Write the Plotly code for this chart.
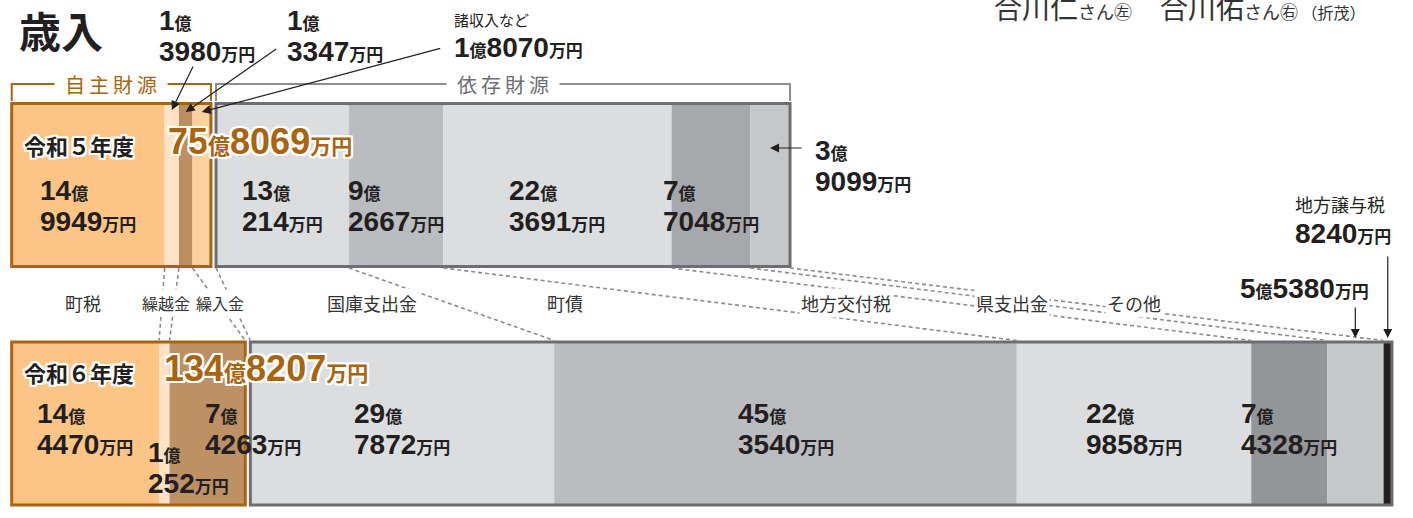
import plotly.graph_objects as go

# ---------------- data (values in 万円) ----------------
title = "歳入"
years = ["令和５年度", "令和６年度"]
year_totals = [758069, 1348207]

own_cats_r5 = ["町税", "繰越金", "繰入金", "諸収入など"]
own_vals_r5 = [149949, 13980, 13347, 18070]
dep_cats_r5 = ["国庫支出金", "町債", "地方交付税", "県支出金", "その他"]
dep_vals_r5 = [130214, 92667, 223691, 77048, 39099]

own_cats_r6 = ["町税", "繰越金", "繰入金"]
own_vals_r6 = [144470, 10252, 74263]
dep_cats_r6 = ["国庫支出金", "町債", "地方交付税", "県支出金", "その他", "地方譲与税"]
dep_vals_r6 = [297872, 453540, 229858, 74328, 55380, 8240]

group_names = ["自主財源", "依存財源"]
shared_cats = ["町税", "繰越金", "繰入金", "国庫支出金", "町債", "地方交付税", "県支出金", "その他"]
caption = ("合川仁<span style='font-size:18px'>さん㊧</span>　"
           "合川佑<span style='font-size:18px'>さん㊨</span>"
           "<span style='font-size:16px'> （折茂）</span>")

# ---------------- styles / layout ----------------
FONT = "Noto Sans CJK JP"
NUMFONT = "Liberation Sans"
INK = "#231F20"
OWN_EDGE = "#A8640F"
DEP_EDGE = "#6D6E71"
W, H = 1413, 518
PX = 10.2          # pixels per 億
LEFT = 11.7        # pixel of value 0
GAP = 0.5          # gap (億) between the two boxes
BAR_H = 163

own_colors_r5 = ["#FCC585", "#FEE3C6", "#BD8F60", "#FDD29E"]
dep_colors_r5 = ["#DCDDDF", "#BBBCBF", "#DCDDDF", "#A7A8AB", "#C6C7C9"]
own_colors_r6 = ["#FCC585", "#FEE3C6", "#BD9163"]
dep_colors_r6 = ["#DCDDDF", "#BBBCBF", "#DCDDDF", "#949598", "#C6C7C9", "#231F20"]

HALO = ("white 2px 0px 0px, white -2px 0px 0px, white 0px 2px 0px, white 0px -2px 0px, "
        "white 2px 2px 0px, white -2px -2px 0px, white 2px -2px 0px, white -2px 2px 0px")

rows = [
    dict(year=years[0], total=year_totals[0], own=(own_cats_r5, own_vals_r5, own_colors_r5),
         dep=(dep_cats_r5, dep_vals_r5, dep_colors_r5), yc=185, year_y=145, total_y=141,
         total_dx=154, in_y=206,
         specs={
             "繰越金": dict(tip_y=110, ax=22, ay=-45, anchor="center", lx=-15, xa="left", ly=36),
             "繰入金": dict(tip_y=112, ax=92, ay=-64, anchor="center", lx=99, xa="left", ly=36),
             "諸収入など": dict(tip_y=112, ax=240, ay=-64, anchor="center", lx=250, xa="left", ly=36,
                             name=True, oneline=True, name_size=15),
             "その他": dict(tip_y=148, ax=33, ay=0, anchor="center", lx=43, xa="left", ly=166),
         }),
    dict(year=years[1], total=year_totals[1], own=(own_cats_r6, own_vals_r6, own_colors_r6),
         dep=(dep_cats_r6, dep_vals_r6, dep_colors_r6), yc=423.5, year_y=372, total_y=368,
         total_dx=150, in_y=429,
         specs={
             "繰越金": dict(anchor="start", lx=-13, xa="left", ly=468),
             "繰入金": dict(anchor="start", lx=33, xa="left", ly=429),
             "その他": dict(tip_y=338, ax=0, ay=-32, anchor="center", lx=16, xa="right", ly=288,
                         oneline=True),
             "地方譲与税": dict(tip_y=338, ax=0, ay=-83, anchor="center", lx=5, xa="right", ly=220,
                           name=True, name_size=18),
         }),
]

DIG, UNIT, BASE = 28, 17, 23.5


def amt(v, dig=DIG, unit=UNIT, oneline=False, oku_unit=None, man_unit=None):
    oku, man = divmod(v, 10000)
    ou = oku_unit or unit
    mu = man_unit or unit

    def num(n):
        return f"<span style='font-family:{NUMFONT};font-size:{dig}px'>{n}</span>"

    parts = []
    if oku:
        parts.append(num(oku) + f"<span style='font-size:{ou}px'>億</span>")
    if man:
        parts.append(num(man) + f"<span style='font-size:{mu}px'>万円</span>")
    if oneline:
        return "<b>" + "".join(parts) + "</b>"
    return "<br>".join("<b>" + p + "</b>" for p in parts)


fig = go.Figure()
shapes = []
ann = []

geo = []  # per row: dict cat -> (start, end)
for r in rows:
    segs = {}
    cats, vals, cols = r["own"]
    starts, pos = [], 0.0
    for v in vals:
        starts.append(pos)
        pos += v / 1e4
    own_end = pos
    for c, s, v in zip(cats, starts, vals):
        segs[c] = (s, s + v / 1e4)
    fig.add_trace(go.Bar(orientation="h", y=[r["yc"]] * len(vals), x=[v / 1e4 for v in vals],
                         base=starts, width=[BAR_H] * len(vals),
                         marker=dict(color=cols, line=dict(width=0)), hoverinfo="skip"))
    dcats, dvals, dcols = r["dep"]
    dep_start = own_end + GAP
    dstarts, pos = [], dep_start
    for v in dvals:
        dstarts.append(pos)
        pos += v / 1e4
    dep_end = pos
    for c, s, v in zip(dcats, dstarts, dvals):
        segs[c] = (s, s + v / 1e4)
    fig.add_trace(go.Bar(orientation="h", y=[r["yc"]] * len(dvals), x=[v / 1e4 for v in dvals],
                         base=dstarts, width=[BAR_H] * len(dvals),
                         marker=dict(color=dcols, line=dict(width=0)), hoverinfo="skip"))
    segs["_own"] = (0.0, own_end)
    segs["_dep"] = (dep_start, dep_end)
    geo.append(segs)

    top, bot = r["yc"] - BAR_H / 2, r["yc"] + BAR_H / 2
    shapes.append(dict(type="rect", xref="x", yref="y", x0=0, x1=own_end, y0=top, y1=bot,
                       line=dict(color=OWN_EDGE, width=3)))
    shapes.append(dict(type="rect", xref="x", yref="y", x0=dep_start, x1=dep_end, y0=top, y1=bot,
                       line=dict(color=DEP_EDGE, width=3)))

    # year and total
    ann.append(dict(x=0, y=r["year_y"], xref="x", yref="y", xanchor="left", yanchor="middle",
                    xshift=10, text="<b>" + r["year"] + "</b>", showarrow=False,
                    font=dict(family=FONT, size=22, color=INK, shadow=HALO)))
    ann.append(dict(x=0, y=r["total_y"], xref="x", yref="y", xanchor="left", yanchor="middle",
                    xshift=r["total_dx"], text=amt(r["total"], dig=36, oneline=True, oku_unit=22, man_unit=21),
                    showarrow=False, font=dict(family=FONT, size=30, color=OWN_EDGE, shadow=HALO)))

    # value labels
    for c, v in list(zip(cats, vals)) + list(zip(dcats, dvals)):
        s, e = segs[c]
        sp = r["specs"].get(c)
        if sp is None:
            ann.append(dict(x=(s + e) / 2, y=r["in_y"], xref="x", yref="y", xanchor="center",
                            yanchor="middle", align="left", text=amt(v), showarrow=False,
                            font=dict(family=FONT, size=BASE, color=INK)))
            continue
        ref_x = (s + e) / 2 if sp["anchor"] == "center" else s
        if "tip_y" in sp:
            ann.append(dict(x=(s + e) / 2, y=sp["tip_y"], xref="x", yref="y", ax=sp["ax"], ay=sp["ay"],
                            text="", showarrow=True, arrowhead=2, arrowsize=1.5, arrowwidth=1.2,
                            arrowcolor=INK, standoff=0))
        txt = amt(v, oneline=sp.get("oneline", False))
        if sp.get("name"):
            txt = f"<span style='font-size:{sp['name_size']}px'>{c}</span><br>" + txt
        ann.append(dict(x=ref_x, y=sp["ly"], xref="x", yref="y", xanchor=sp["xa"], yanchor="middle",
                        xshift=sp["lx"], align="left", text=txt, showarrow=False,
                        font=dict(family=FONT, size=BASE, color=INK)))

# brackets above first row
r0 = geo[0]
BR_Y, BR_Y2 = 84, 101
for key, name, col, tcol in [("_own", group_names[0], OWN_EDGE, OWN_EDGE),
                             ("_dep", group_names[1], "#8C8D90", DEP_EDGE)]:
    s, e = r0[key]
    shapes.append(dict(type="path", xref="x", yref="y",
                       path=f"M {s} {BR_Y2} L {s} {BR_Y} L {e} {BR_Y} L {e} {BR_Y2}",
                       line=dict(color=col, width=2)))
    ann.append(dict(x=(s + e) / 2, y=BR_Y, xref="x", yref="y", xanchor="center", yanchor="middle",
                    text="\u2002" + "\u2009".join(name) + "\u2002", showarrow=False, bgcolor="white",
                    borderpad=0, font=dict(family=FONT, size=20, color=tcol)))

# dashed connectors between the rows
g1, g2 = geo
y_a = rows[0]["yc"] + BAR_H / 2 + 1.5
y_b = rows[1]["yc"] - BAR_H / 2 - 1.5
pairs = [(g1[c][1], g2[c][1]) for c in shared_cats] + [(g1["_dep"][0], g2["_dep"][0])]
for xa_, xb_ in pairs:
    shapes.append(dict(type="line", xref="x", yref="y", x0=xa_, y0=y_a, x1=xb_, y1=y_b,
                       line=dict(color="#8C8C8C", width=1.6, dash="4px,3px")))

# category labels between rows
between_dx = [-4, -2, 23, 30, -26, 0, 12, 71]
between_size = [18, 16, 16, 18, 18, 18, 18, 18]
for c, dx, fs in zip(shared_cats, between_dx, between_size):
    c1 = sum(g1[c]) / 2
    c2 = sum(g2[c]) / 2
    ann.append(dict(x=(c1 + c2) / 2, y=303, xref="x", yref="y", xanchor="center", yanchor="middle",
                    xshift=dx, text=c, showarrow=False, bgcolor="white", borderpad=1,
                    font=dict(family=FONT, size=fs, color="#333333")))

# title and caption
ann.append(dict(x=17 / W, y=29, xref="paper", yref="y", xanchor="left", yanchor="middle",
                text="<b>" + title + "</b>", showarrow=False, font=dict(family=FONT, size=42, color=INK)))
ann.append(dict(x=992 / W, y=7, xref="paper", yref="y", xanchor="left", yanchor="middle",
                text=caption, showarrow=False, font=dict(family=FONT, size=28, color="#333333")))

fig.update_layout(
    width=W, height=H, autosize=False, margin=dict(l=0, r=0, t=0, b=0),
    paper_bgcolor="white", plot_bgcolor="white", showlegend=False, barmode="overlay",
    xaxis=dict(range=[-LEFT / PX, (W - LEFT) / PX], visible=False, fixedrange=True),
    yaxis=dict(range=[H, 0], visible=False, fixedrange=True),
    shapes=shapes, annotations=ann,
)

fig.write_html("out.html", config={"displayModeBar": False},
               post_script="document.body.style.margin='0';document.body.style.overflow='hidden';")
